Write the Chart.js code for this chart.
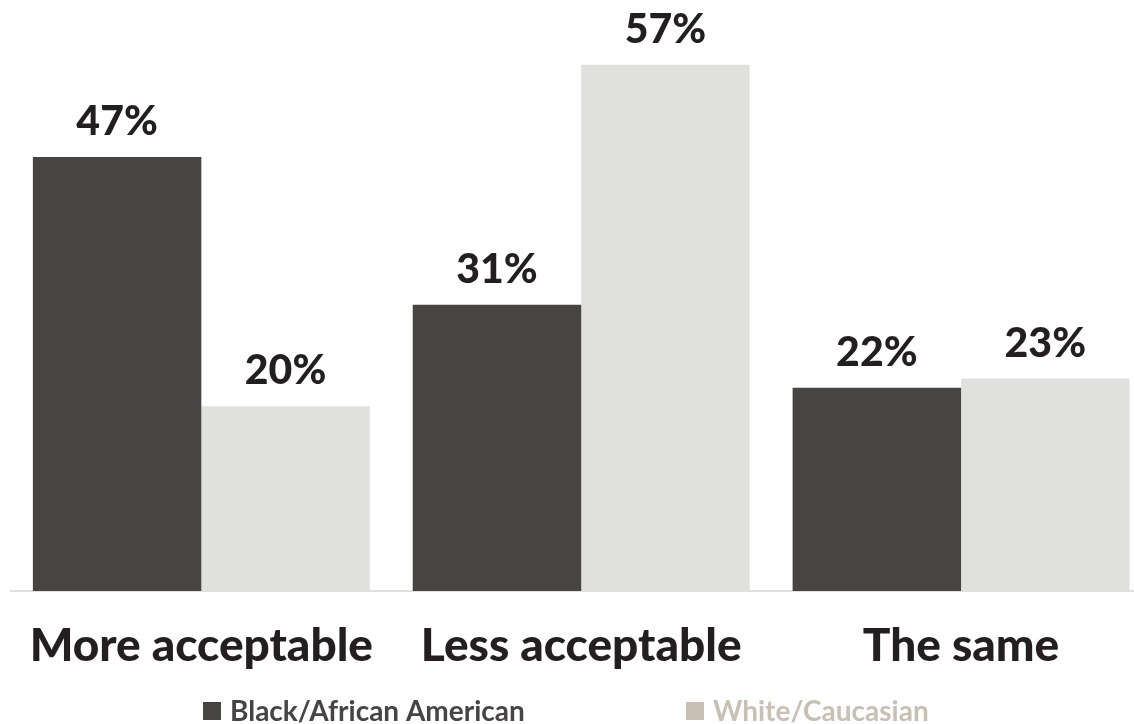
<!DOCTYPE html>
<html>
<head>
<meta charset="utf-8">
<script src="https://cdn.jsdelivr.net/npm/chart.js@4.4.1/dist/chart.umd.min.js"></script>
<style>
  html, body { margin: 0; padding: 0; background: #ffffff; overflow: hidden; width: 1134px; height: 724px; }
  #wrap { position: absolute; left: 0; top: 0; width: 1151px; height: 724px; }
</style>
</head>
<body>
<div id="wrap"><canvas id="c" width="1151" height="724"></canvas></div>
<script>
const categories = ["More acceptable", "Less acceptable", "The same"];
const seriesNames = ["Black/African American", "White/Caucasian"];
const blackValues = [47, 31, 22];
const whiteValues = [20, 57, 23];

const FONT = "Lato, 'DejaVu Sans', sans-serif";
const DARK_BAR = "#474543";
const LIGHT_BAR = "#e0e0df";
const LEGEND_LIGHT = "#c8c0b5";
const TEXT_DARK = "#231f20";

const valueLabels = {
  id: "valueLabels",
  afterDatasetsDraw(chart) {
    const ctx = chart.ctx;
    ctx.save();
    ctx.font = "900 41px " + FONT;
    ctx.fillStyle = TEXT_DARK;
    ctx.textAlign = "center";
    ctx.textBaseline = "alphabetic";
    chart.data.datasets.forEach((ds, di) => {
      const meta = chart.getDatasetMeta(di);
      meta.data.forEach((bar, i) => {
        ctx.fillText(ds.data[i] + "%", bar.x, bar.y - 22);
      });
    });
    ctx.restore();
  }
};

const customLegend = {
  id: "customLegend",
  afterDraw(chart) {
    const ctx = chart.ctx;
    ctx.save();
    ctx.font = "700 28px " + FONT;
    ctx.textBaseline = "middle";
    ctx.textAlign = "left";
    const items = [
      { text: seriesNames[0], box: DARK_BAR, color: DARK_BAR, x: 203 },
      { text: seriesNames[1], box: LEGEND_LIGHT, color: LEGEND_LIGHT, x: 686 }
    ];
    const y = 711;
    items.forEach(it => {
      ctx.fillStyle = it.box;
      ctx.fillRect(it.x, y - 9, 18, 18);
      ctx.fillStyle = it.color;
      ctx.fillText(it.text, it.x + 27, y + 1);
    });
    ctx.restore();
  }
};

new Chart(document.getElementById("c"), {
  type: "bar",
  data: {
    labels: categories,
    datasets: [
      { label: seriesNames[0], data: blackValues, backgroundColor: DARK_BAR, borderWidth: 0 },
      { label: seriesNames[1], data: whiteValues, backgroundColor: LIGHT_BAR, borderWidth: 0 }
    ]
  },
  options: {
    responsive: false,
    animation: false,
    devicePixelRatio: 1,
    layout: { padding: { left: 10, right: 0, top: 0, bottom: 0 } },
    datasets: { bar: { barPercentage: 1.0, categoryPercentage: 0.887 } },
    plugins: { legend: { display: false }, tooltip: { enabled: false } },
    scales: {
      x: {
        afterFit(scale) { scale.height = 133; },
        grid: { display: false, drawTicks: false },
        border: { display: true, color: "#e0e0e0", width: 2 },
        ticks: {
          color: TEXT_DARK,
          font: { family: FONT, size: 46, weight: "900" },
          padding: 28,
          maxRotation: 0,
          autoSkip: false
        }
      },
      y: {
        display: false,
        min: 0,
        max: 64
      }
    }
  },
  plugins: [valueLabels, customLegend]
});
</script>
</body>
</html>
